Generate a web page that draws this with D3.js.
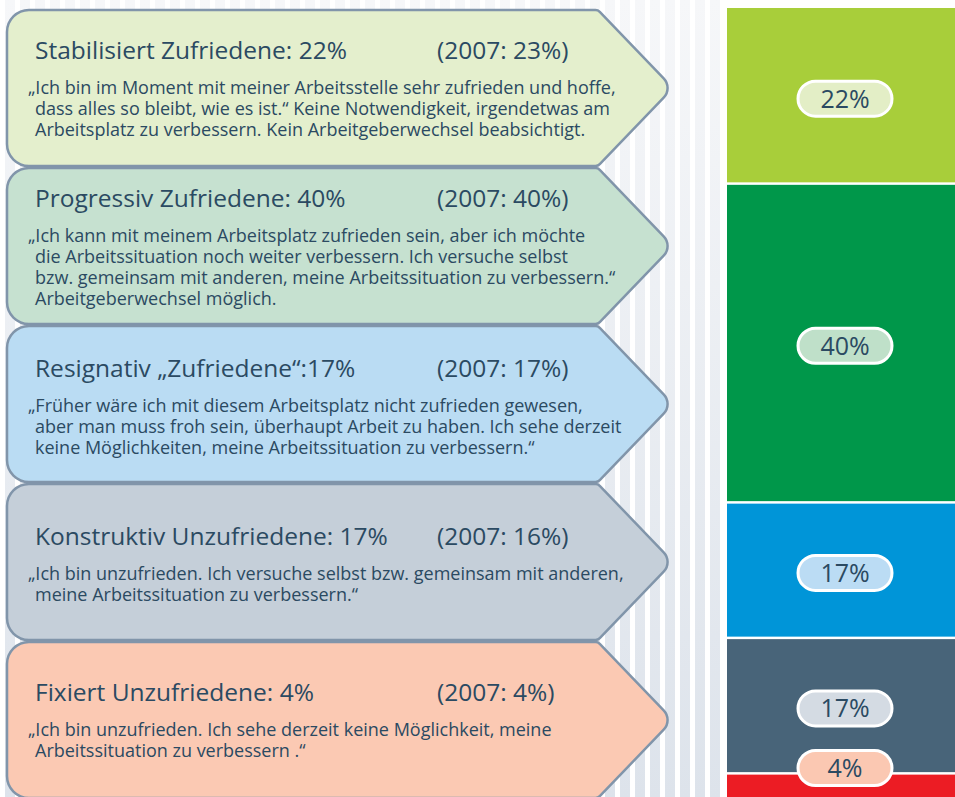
<!DOCTYPE html>
<html>
<head>
<meta charset="utf-8">
<script src="https://cdn.jsdelivr.net/npm/d3@7"></script>
<style>
  body { margin: 0; background: #fff; }
  svg { display: block; }
  text { font-family: "Open Sans", "DejaVu Sans", sans-serif; fill: #2b4a62; }
</style>
</head>
<body>
<svg id="chart"></svg>
<script>
var width = 955,
    height = 797;

// types of job satisfaction, share 2009 and 2007 (in %)
var categories = ["Stabilisiert Zufriedene", "Progressiv Zufriedene", "Resignativ „Zufriedene“",
                  "Konstruktiv Unzufriedene", "Fixiert Unzufriedene"];
var titleSep = [": ", ": ", ":", ": ", ": "];
var share = [22, 40, 17, 17, 4];
var share2007 = [23, 40, 17, 16, 4];
var quotes = [
  ["„Ich bin im Moment mit meiner Arbeitsstelle sehr zufrieden und hoffe,",
   "dass alles so bleibt, wie es ist.“ Keine Notwendigkeit, irgendetwas am",
   "Arbeitsplatz zu verbessern. Kein Arbeitgeberwechsel beabsichtigt."],
  ["„Ich kann mit meinem Arbeitsplatz zufrieden sein, aber ich möchte",
   "die Arbeitssituation noch weiter verbessern. Ich versuche selbst",
   "bzw. gemeinsam mit anderen, meine Arbeitssituation zu verbessern.“",
   "Arbeitgeberwechsel möglich."],
  ["„Früher wäre ich mit diesem Arbeitsplatz nicht zufrieden gewesen,",
   "aber man muss froh sein, überhaupt Arbeit zu haben. Ich sehe derzeit",
   "keine Möglichkeiten, meine Arbeitssituation zu verbessern.“"],
  ["„Ich bin unzufrieden. Ich versuche selbst bzw. gemeinsam mit anderen,",
   "meine Arbeitssituation zu verbessern.“"],
  ["„Ich bin unzufrieden. Ich sehe derzeit keine Möglichkeit, meine",
   "Arbeitssituation zu verbessern .“"]
];
var barColors = ["#a8ce3a", "#00974a", "#0095d8", "#486479", "#ec1c24"];
var boxColors = ["#e4efcd", "#c6e1d0", "#badcf3", "#c5cfd9", "#fbc9b3"];
var pillColors = ["#e3eec6", "#bfe0c9", "#bbdcf4", "#d4dbe3", "#fbc8b2"];

var svg = d3.select("#chart").attr("width", width).attr("height", height);
var defs = svg.append("defs");

// striped background
var grad = defs.append("linearGradient").attr("id", "stripeGrad")
  .attr("x1", 0).attr("y1", 0).attr("x2", 0).attr("y2", 1);
grad.append("stop").attr("offset", "0%").attr("stop-color", "#f6f7f9");
grad.append("stop").attr("offset", "100%").attr("stop-color", "#dde3eb");

svg.append("rect").attr("width", width).attr("height", height).attr("fill", "#fff");
svg.append("g").selectAll("rect")
  .data(d3.range(0, 720, 15))
  .join("rect")
  .attr("x", function(d) { return d + 5; })
  .attr("y", 0)
  .attr("width", 10)
  .attr("height", height)
  .attr("fill", "url(#stripeGrad)");

// stacked bar
var stackY = [];
var acc = 0;
share.forEach(function(v, i) { stackY.push({i: i, y0: acc, y1: acc + v}); acc += v; });

var y = d3.scaleLinear().domain([0, 100]).range([8, 805]);
var barX = 727;

svg.append("g").selectAll("rect")
  .data(stackY)
  .join("rect")
  .attr("x", barX)
  .attr("y", function(d) { return y(d.y0) + (d.i > 0 ? 1.5 : 0); })
  .attr("width", width - barX)
  .attr("height", function(d) { return y(d.y1) - y(d.y0) - (d.i > 0 ? 1.5 : 0) - 1; })
  .attr("fill", function(d) { return barColors[d.i]; });

// pill labels
var pillW = 94, pillH = 35;
var pill = svg.append("g").selectAll("g")
  .data(stackY)
  .join("g")
  .attr("transform", function(d) {
    var cy = (y(d.y0) + y(d.y1)) / 2 + 3;
    cy = Math.min(cy, height - 29);
    return "translate(" + (barX + 118) + "," + cy + ")";
  });
pill.append("rect")
  .attr("x", -pillW / 2).attr("y", -pillH / 2)
  .attr("width", pillW).attr("height", pillH)
  .attr("rx", pillH / 2)
  .attr("fill", function(d) { return pillColors[d.i]; })
  .attr("stroke", "#fff")
  .attr("stroke-width", 3);
pill.append("text")
  .attr("text-anchor", "middle")
  .attr("dy", "0.36em")
  .attr("font-size", 25)
  .text(function(d) { return share[d.i] + "%"; });

// arrow boxes
var boxX0 = 7, boxX1 = 598, tipX = 673, boxTop = 10, boxH = 156, boxGap = 2;
var titleOffset = [40, 30, 42, 52, 50];

function arrowPath(top) {
  var bottom = top + boxH, mid = top + boxH / 2;
  var p = d3.path();
  p.moveTo(boxX0, mid);
  p.arcTo(boxX0, top, boxX1, top, 22);
  p.arcTo(boxX1, top, tipX, mid, 6);
  p.arcTo(tipX, mid, boxX1, bottom, 14);
  p.arcTo(boxX1, bottom, boxX0, bottom, 6);
  p.arcTo(boxX0, bottom, boxX0, mid, 22);
  p.closePath();
  return p.toString();
}

var box = svg.append("g").selectAll("g")
  .data(categories)
  .join("g")
  .attr("transform", function(d, i) { return "translate(0," + (boxTop + i * (boxH + boxGap)) + ")"; });

box.append("path")
  .attr("d", function() { return arrowPath(0); })
  .attr("fill", function(d, i) { return boxColors[i]; })
  .attr("stroke", "#8195aa")
  .attr("stroke-width", 2.5);

box.append("text")
  .attr("x", 35)
  .attr("y", function(d, i) { return titleOffset[i] + 9; })
  .attr("font-size", 24.5)
  .text(function(d, i) { return d + titleSep[i] + share[i] + "%"; });

box.append("text")
  .attr("x", 437)
  .attr("y", function(d, i) { return titleOffset[i] + 9; })
  .attr("font-size", 24.5)
  .text(function(d, i) { return "(2007: " + share2007[i] + "%)"; });

box.each(function(d, i) {
  d3.select(this).append("text")
    .attr("font-size", 18)
    .selectAll("tspan")
    .data(quotes[i])
    .join("tspan")
    .attr("x", function(q, j) { return j === 0 ? 28 : 35; })
    .attr("y", function(q, j) { return titleOffset[i] + 44 + j * 21; })
    .text(function(q) { return q; });
});
</script>
</body>
</html>
